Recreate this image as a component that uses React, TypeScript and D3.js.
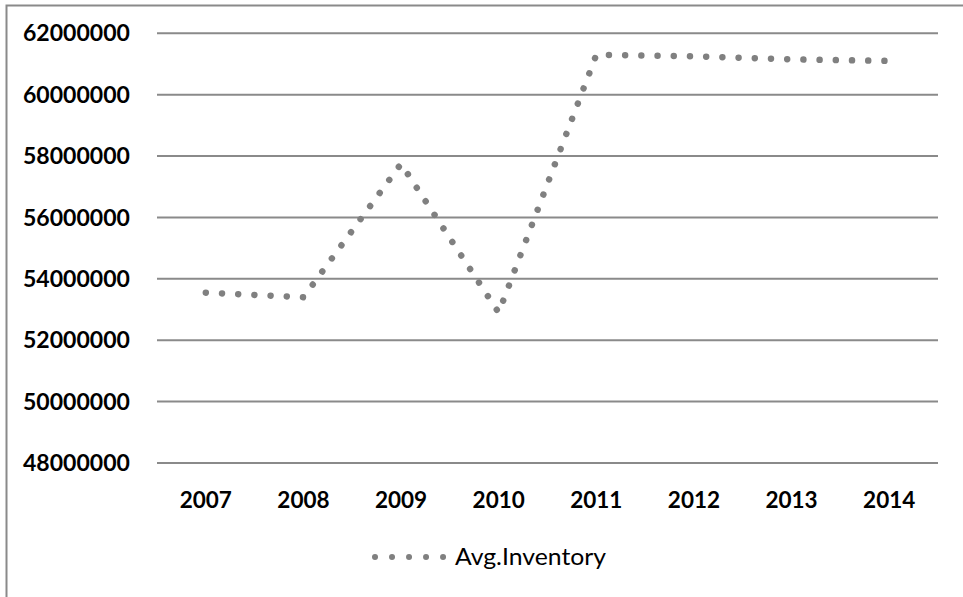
import React from "react";
import * as d3 from "d3";

// Yearly average inventory
const years: string[] = ["2007", "2008", "2009", "2010", "2011", "2012", "2013", "2014"];
const avgInventory: number[] = [53550000, 53400000, 57750000, 52900000, 61300000, 61250000, 61150000, 61100000];
const yTicks: number[] = [48000000, 50000000, 52000000, 54000000, 56000000, 58000000, 60000000, 62000000];
const seriesName = "Avg.Inventory";

const W = 963;
const H = 597;
const plot = { left: 157, right: 938, top: 33.3, bottom: 463 };
const GREY = "#8a8a8a";
const FONT = "Lato, 'Open Sans', sans-serif";

export default function App() {
  const x = d3.scaleBand<string>().domain(years).range([plot.left, plot.right]).padding(0);
  const y = d3.scaleLinear().domain([48000000, 62000000]).range([plot.bottom, plot.top]);
  const cx = (yr: string) => (x(yr) as number) + x.bandwidth() / 2;

  const line = d3
    .line<number>()
    .x((_, i) => cx(years[i]))
    .y((v) => y(v));

  const dotStyle = {
    fill: "none",
    stroke: "#808080",
    strokeWidth: 6.5,
    strokeLinecap: "round" as const,
    strokeDasharray: "0.01 16.2",
  };

  return (
    <svg
      width={W}
      height={H}
      style={{ position: "absolute", left: 0, top: 0, background: "#fff" }}
    >
      {/* chart frame */}
      <rect x={6.5} y={5.5} width={W + 20} height={H + 20} fill="#fff" stroke={GREY} strokeWidth={2} />

      {/* horizontal gridlines and value labels */}
      {yTicks.map((t) => (
        <g key={t}>
          <line x1={plot.left} x2={plot.right} y1={y(t)} y2={y(t)} stroke={GREY} strokeWidth={2} />
          <text
            x={130}
            y={y(t)}
            dy="0.36em"
            textAnchor="end"
            fontFamily={FONT}
            fontWeight="bold"
            fontSize={22.5}
            fill="#000"
            textLength={107}
            lengthAdjust="spacingAndGlyphs"
          >
            {t}
          </text>
        </g>
      ))}

      {/* category labels */}
      {years.map((yr) => (
        <text
          key={yr}
          x={cx(yr)}
          y={508}
          textAnchor="middle"
          fontFamily={FONT}
          fontWeight="bold"
          fontSize={22.5}
          fill="#000"
        >
          {yr}
        </text>
      ))}

      {/* dotted series line */}
      <path d={line(avgInventory) as string} {...dotStyle} />

      {/* legend */}
      <line x1={375} x2={444} y1={557} y2={557} {...dotStyle} strokeWidth={6} strokeDasharray="0.01 17" />
      <text
        x={455}
        y={557}
        dy="0.36em"
        fontFamily={FONT}
        fontSize={23}
        fill="#000"
        textLength={151}
        lengthAdjust="spacingAndGlyphs"
      >
        {seriesName}
      </text>
    </svg>
  );
}
